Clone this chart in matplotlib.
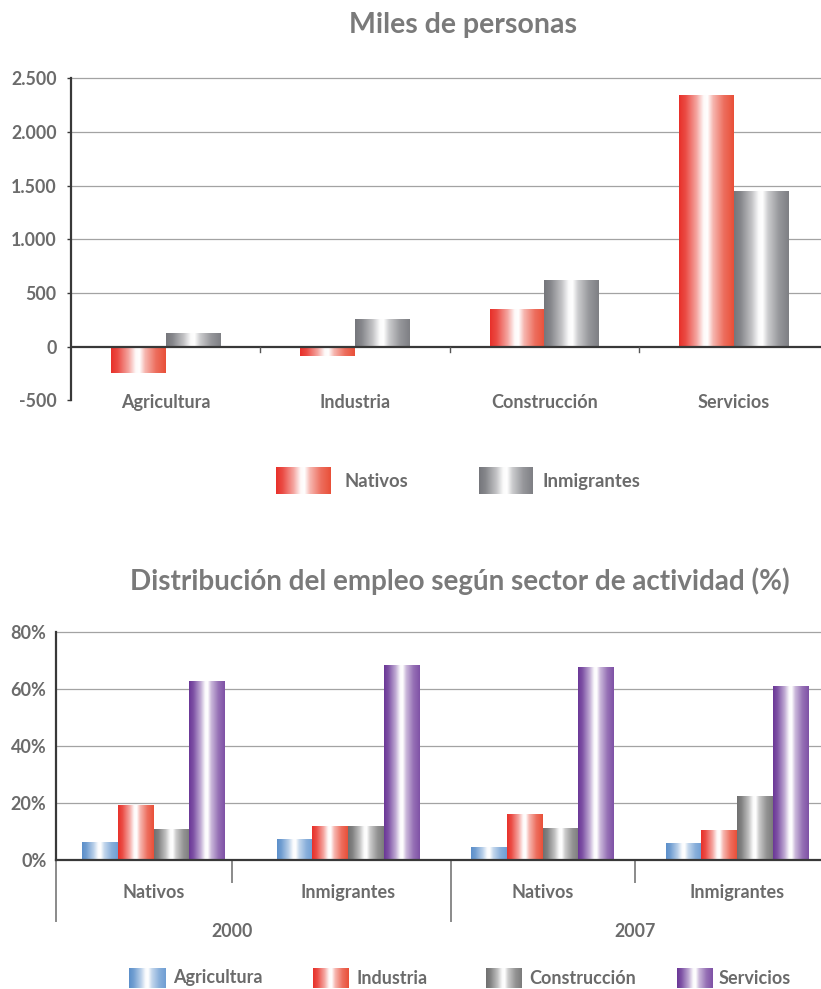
import numpy as np
import matplotlib
matplotlib.use('Agg')
import matplotlib.pyplot as plt
from matplotlib.colors import LinearSegmentedColormap, to_rgb
from matplotlib.transforms import blended_transform_factory

plt.rcParams['font.family'] = ['Lato', 'DejaVu Sans']

# ---------------- data ----------------
sectores = ['Agricultura', 'Industria', 'Construcción', 'Servicios']
nativos_miles = [-240, -85, 350, 2345]
inmigrantes_miles = [127, 258, 620, 1450]
top_yticks = [-500, 0, 500, 1000, 1500, 2000, 2500]
top_yticklabels = ['-500', '0', '500', '1.000', '1.500', '2.000', '2.500']

grupos = ['Nativos', 'Inmigrantes', 'Nativos', 'Inmigrantes']
anios = ['2000', '2007']
agricultura_pct = [6.3, 7.3, 4.3, 5.7]
industria_pct = [19.3, 11.7, 16.0, 10.3]
construccion_pct = [10.7, 11.7, 11.0, 22.2]
servicios_pct = [62.7, 68.5, 67.5, 61.0]
bot_yticks = [0, 20, 40, 60, 80]
bot_yticklabels = ['0%', '20%', '40%', '60%', '80%']

# ---------------- style ----------------
W, H = 821, 989
TXT = '#6b6b6b'
TITLE = '#7a7a7a'
GRID = '#a3a3a3'
DARK = '#383838'

def fx(px):
    return px / W

def fy(py):
    return 1 - py / H

def make_cmap(edge, edge_r=None):
    edge_r = edge_r or edge
    e = np.array(to_rgb(edge)); er = np.array(to_rgb(edge_r)); w = np.ones(3)
    stops = [(0, 0.0), (0.12, 0.12), (0.32, 0.55), (0.45, 0.97), (0.52, 1.0),
             (0.62, 0.62), (0.82, 0.22), (1.0, 0.03)]
    cols = []
    for t, a in stops:
        base = e * (1 - t) + er * t
        cols.append((t, tuple(base * (1 - a) + w * a)))
    return LinearSegmentedColormap.from_list('g', cols)

cm_red = make_cmap('#e8302a', '#e84a32')
cm_gray = make_cmap('#75767b', '#7a7b80')
cm_blue = make_cmap('#5b8fca', '#6a9bd2')
cm_gray2 = make_cmap('#6f6f6f', '#777777')
cm_purple = make_cmap('#6a3797', '#7b4ca3')

grad = np.linspace(0, 1, 256).reshape(1, -1)

def paint(ax, bars, cmap):
    for b in bars:
        x0 = b.get_x(); w = b.get_width(); y0 = b.get_y(); h = b.get_height()
        ax.imshow(grad, cmap=cmap, extent=[x0, x0 + w, min(y0, y0 + h), max(y0, y0 + h)],
                  aspect='auto', interpolation='bilinear', zorder=3)

def swatch(px_x, px_y, w, h, cmap):
    a = fig.add_axes([fx(px_x), fy(px_y + h), w / W, h / H])
    a.imshow(grad, cmap=cmap, aspect='auto', interpolation='bilinear')
    a.set_axis_off()

fig = plt.figure(figsize=(8.21, 9.89), dpi=100)

# ================= TOP CHART =================
fig.text(fx(463), fy(33.5), 'Miles de personas', ha='center', va='baseline',
         fontsize=20.5, fontweight='bold', color=TITLE)

ax1 = fig.add_axes([fx(71), fy(400.5), (821 - 71) / W, (400.5 - 78.3) / H])
x = np.arange(len(sectores))
bw = 0.288
b1 = ax1.bar(x - bw / 2, nativos_miles, bw, color='none', edgecolor='none')
b2 = ax1.bar(x + bw / 2, inmigrantes_miles, bw, color='none', edgecolor='none')
paint(ax1, b1, cm_red)
paint(ax1, b2, cm_gray)
ax1.set_xlim(-0.5, -0.5 + 750 / 189.3)
ax1.set_ylim(-500, 2500)
for yv in top_yticks:
    if yv > 0:
        ax1.axhline(yv, color=GRID, lw=0.9, zorder=1, clip_on=False)
ax1.axhline(0, color=DARK, lw=1.6, zorder=4)
for s in ['top', 'right', 'bottom']:
    ax1.spines[s].set_visible(False)
ax1.spines['left'].set_color(DARK)
ax1.spines['left'].set_linewidth(1.6)
ax1.spines['left'].set_zorder(5)
ax1.set_xticks([])
ax1.set_yticks(top_yticks)
ax1.set_yticklabels(top_yticklabels, fontsize=12.8, fontweight='bold', color=TXT)
ax1.tick_params(axis='y', direction='out', length=3.2, width=1, color=DARK, pad=7)
trans1 = blended_transform_factory(ax1.transData, ax1.transAxes)
for i, s in enumerate(sectores):
    ax1.annotate(s, xy=(i, 0), xycoords=trans1, xytext=(0, -5.5), textcoords='offset points',
                 ha='center', va='baseline', fontsize=13, fontweight='bold', color=TXT)
for xb in [0.5, 1.5, 2.5]:
    ax1.plot([xb, xb], [0, -45], color='#555555', lw=1, clip_on=False, zorder=4)

# top legend
swatch(276, 467, 54, 27, cm_red)
fig.text(fx(344), fy(481), 'Nativos', ha='left', va='center', fontsize=13.3,
         fontweight='bold', color=TXT)
swatch(479, 467, 54, 27, cm_gray)
fig.text(fx(542), fy(481), 'Inmigrantes', ha='left', va='center', fontsize=13.3,
         fontweight='bold', color=TXT)

# ================= BOTTOM CHART =================
fig.text(fx(460), fy(590), 'Distribución del empleo según sector de actividad (%)',
         ha='center', va='baseline', fontsize=20, fontweight='bold', color=TITLE)

ax2 = fig.add_axes([fx(56.3), fy(860), (821 - 56.3) / W, (860 - 632.3) / H])
xg = np.arange(len(grupos))
bw2 = 0.183
series = [(agricultura_pct, cm_blue), (industria_pct, cm_red),
          (construccion_pct, cm_gray2), (servicios_pct, cm_purple)]
for k, (vals, cm) in enumerate(series):
    bars = ax2.bar(xg + (k - 1.5) * bw2, vals, bw2, color='none', edgecolor='none')
    paint(ax2, bars, cm)
ax2.set_xlim(-0.5, -0.5 + 764.7 / 194.5)
ax2.set_ylim(0, 80)
for yv in bot_yticks:
    if yv > 0:
        ax2.axhline(yv, color=GRID, lw=0.9, zorder=1, clip_on=False)
ax2.axhline(0, color=DARK, lw=1.6, zorder=4, clip_on=False)
for s in ['top', 'right', 'bottom']:
    ax2.spines[s].set_visible(False)
ax2.spines['left'].set_color(DARK)
ax2.spines['left'].set_linewidth(1.6)
ax2.spines['left'].set_zorder(5)
ax2.set_xticks([])
ax2.set_yticks(bot_yticks)
ax2.set_yticklabels(bot_yticklabels, fontsize=13, fontweight='bold', color=TXT)
ax2.tick_params(axis='y', length=0, pad=7)

trans2 = blended_transform_factory(ax2.transData, ax2.transAxes)
ah = (860 - 632.3)
inner_sep = [0.403, 2.475]
outer_sep = [-0.5, 1.529]
for xs in inner_sep:
    ax2.plot([xs, xs], [0, -22 / ah], transform=trans2, color='#8a8a8a', lw=1.4, clip_on=False)
for xs in outer_sep:
    ax2.plot([xs, xs], [0, -61 / ah], transform=trans2, color='#8a8a8a', lw=1.4, clip_on=False)
for i, g in enumerate(grupos):
    ax2.annotate(g, xy=(i, 0), xycoords=trans2, xytext=(0, -23.5), textcoords='offset points',
                 ha='center', va='center', fontsize=13, fontweight='bold', color=TXT)
for xs, a in zip(inner_sep, anios):
    ax2.annotate(a, xy=(xs, 0), xycoords=trans2, xytext=(0, -51.5), textcoords='offset points',
                 ha='center', va='center', fontsize=12.8, fontweight='bold', color=TXT)

# bottom legend
leg_items = [('Agricultura', cm_blue, 129, 173), ('Industria', cm_red, 313, 356),
             ('Construcción', cm_gray2, 486, 529), ('Servicios', cm_purple, 677, 719)]
for name, cm, sx, tx in leg_items:
    swatch(sx, 968, 36, 20, cm)
    fig.text(fx(tx), fy(978), name, ha='left', va='center', fontsize=13,
             fontweight='bold', color=TXT)

fig.savefig('out.png', dpi=100)
